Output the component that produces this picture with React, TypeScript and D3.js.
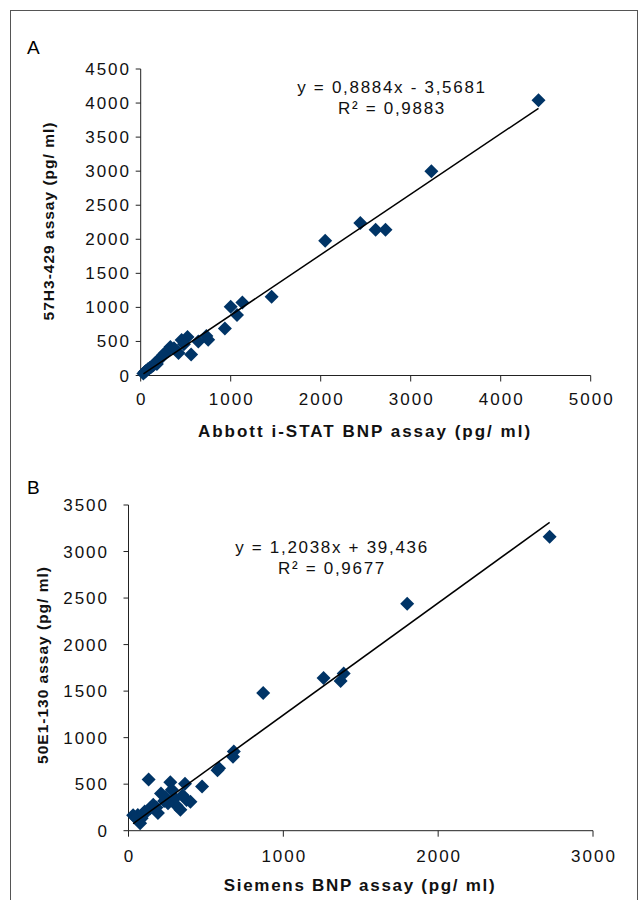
import React from "react";
import * as d3 from "d3";

// Panel A data: Abbott i-STAT BNP (x) vs 57H3-429 assay (y)
const aX = [4420, 3230, 2440, 2050, 2610, 2720, 1455, 1130, 1000, 1070, 935, 750, 730, 640, 520, 455, 560, 420, 330, 300, 270, 240, 215, 190, 160, 140, 120, 100, 80, 60, 45, 30, 370, 480, 250, 180];
const aY = [4040, 3000, 2240, 1980, 2140, 2140, 1155, 1070, 1010, 890, 690, 525, 580, 500, 565, 520, 310, 330, 420, 360, 330, 280, 250, 220, 180, 150, 130, 110, 90, 70, 50, 30, 400, 460, 300, 170];
const aXTicks = [0, 1000, 2000, 3000, 4000, 5000];
const aYTicks = [0, 500, 1000, 1500, 2000, 2500, 3000, 3500, 4000, 4500];
const aFit = { slope: 0.8884, intercept: -3.5681 };
const aEq = ["y = 0,8884x - 3,5681", "R² = 0,9883"];

// Panel B data: Siemens BNP (x) vs 50E1-130 assay (y)
const bX = [2720, 1800, 1260, 1370, 1390, 870, 680, 675, 585, 575, 475, 365, 270, 130, 375, 335, 210, 300, 310, 255, 190, 140, 105, 85, 75, 30, 60, 120, 160, 230, 350, 280, 50, 95, 180, 400, 240];
const bY = [3160, 2440, 1640, 1610, 1690, 1480, 850, 795, 670, 650, 475, 505, 520, 550, 330, 225, 400, 350, 270, 295, 190, 240, 205, 135, 80, 165, 170, 210, 280, 320, 380, 440, 130, 180, 250, 310, 360];
const bXTicks = [0, 1000, 2000, 3000];
const bYTicks = [0, 500, 1000, 1500, 2000, 2500, 3000, 3500];
const bFit = { slope: 1.2038, intercept: 39.436 };
const bEq = ["y = 1,2038x + 39,436", "R² = 0,9677"];

const MARK = "#003466";
const FONT = "'Liberation Sans', Arial, sans-serif";

type PanelProps = {
  xs: number[]; ys: number[]; xTicks: number[]; yTicks: number[];
  fit: { slope: number; intercept: number }; eq: string[];
  xRange: [number, number]; yRange: [number, number];
  yLabelRight: number; xLabelY: number;
  xTitle: string; yTitle: string; xTitleX: number; xTitleY: number; xTitleLs: number;
  yTitleX: number; yTitleY: number; eqX: number; eqY: number;
  letter: string; letterY: number;
};

function Panel(p: PanelProps) {
  const x = d3.scaleLinear().domain([p.xTicks[0], p.xTicks[p.xTicks.length - 1]]).range(p.xRange);
  const y = d3.scaleLinear().domain([p.yTicks[0], p.yTicks[p.yTicks.length - 1]]).range(p.yRange);
  const x0 = x(0), y0 = y(0);
  const minX = d3.min(p.xs) as number, maxX = d3.max(p.xs) as number;
  const line = d3.line<number>().x((v) => x(v)).y((v) => y(p.fit.slope * v + p.fit.intercept));
  const r = 7;
  return (
    <g>
      <text x={27} y={p.letterY} fontSize={19} fontFamily={FONT}>{p.letter}</text>
      <line x1={x0} x2={x0} y1={y0} y2={p.yRange[1]} stroke="#222" strokeWidth={1} />
      <line x1={x0} x2={p.xRange[1]} y1={y0} y2={y0} stroke="#222" strokeWidth={1} />
      {p.yTicks.map((t) => (
        <g key={"y" + t}>
          <line x1={x0 - 5} x2={x0} y1={y(t)} y2={y(t)} stroke="#222" />
          <text x={p.yLabelRight + 2} y={y(t) + 6} textAnchor="end" fontSize={17} letterSpacing={2} fontFamily={FONT} fill="#111">{t}</text>
        </g>
      ))}
      {p.xTicks.map((t) => (
        <g key={"x" + t}>
          <line x1={x(t)} x2={x(t)} y1={y0} y2={y0 + 6} stroke="#222" />
          <text x={x(t) + 1} y={p.xLabelY} textAnchor="middle" fontSize={17} letterSpacing={2} fontFamily={FONT} fill="#111">{t}</text>
        </g>
      ))}
      {p.xs.map((v, i) => {
        const cx = x(v), cy = y(p.ys[i]);
        return <path key={i} d={`M${cx},${cy - r}L${cx + r},${cy}L${cx},${cy + r}L${cx - r},${cy}Z`} fill={MARK} />;
      })}
      <path d={line([minX, maxX]) || ""} stroke="#000" strokeWidth={1.5} fill="none" />
      <text x={p.eqX} y={p.eqY} textAnchor="middle" fontSize={17} letterSpacing={1.7} fontFamily={FONT} fill="#111">{p.eq[0]}</text>
      <text x={p.eqX} y={p.eqY + 21} textAnchor="middle" fontSize={17} letterSpacing={1.7} fontFamily={FONT} fill="#111">{p.eq[1]}</text>
      <text x={p.xTitleX} y={p.xTitleY} textAnchor="middle" fontSize={17} fontWeight="bold" letterSpacing={p.xTitleLs} fontFamily={FONT} fill="#111">{p.xTitle}</text>
      <text transform={`translate(${p.yTitleX},${p.yTitleY}) rotate(-90)`} textAnchor="middle" fontSize={15.5} fontWeight="bold" letterSpacing={1} fontFamily={FONT} fill="#111">{p.yTitle}</text>
    </g>
  );
}

export default function App() {
  return (
    <svg width={639} height={900} style={{ position: "absolute", left: 0, top: 0, background: "#fff" }}>
      <rect x={0} y={0} width={639} height={900} fill="#fff" />
      <rect x={10.5} y={10.5} width={627} height={920} fill="none" stroke="#555" strokeWidth={1} />
      <Panel xs={aX} ys={aY} xTicks={aXTicks} yTicks={aYTicks} fit={aFit} eq={aEq}
        xRange={[140.7, 590.7]} yRange={[375.5, 69]} yLabelRight={129} xLabelY={405}
        xTitle="Abbott i-STAT BNP assay (pg/ ml)" yTitle="57H3-429 assay (pg/ ml)"
        xTitleX={365} xTitleY={437} xTitleLs={2} yTitleX={54} yTitleY={221} eqX={392} eqY={93}
        letter="A" letterY={54} />
      <Panel xs={bX} ys={bY} xTicks={bXTicks} yTicks={bYTicks} fit={bFit} eq={bEq}
        xRange={[128.5, 593]} yRange={[830.7, 505]} yLabelRight={107} xLabelY={862}
        xTitle="Siemens BNP assay (pg/ ml)" yTitle="50E1-130 assay (pg/ ml)"
        xTitleX={360} xTitleY={891} xTitleLs={1.7} yTitleX={48} yTitleY={665} eqX={332} eqY={553}
        letter="B" letterY={494} />
    </svg>
  );
}
